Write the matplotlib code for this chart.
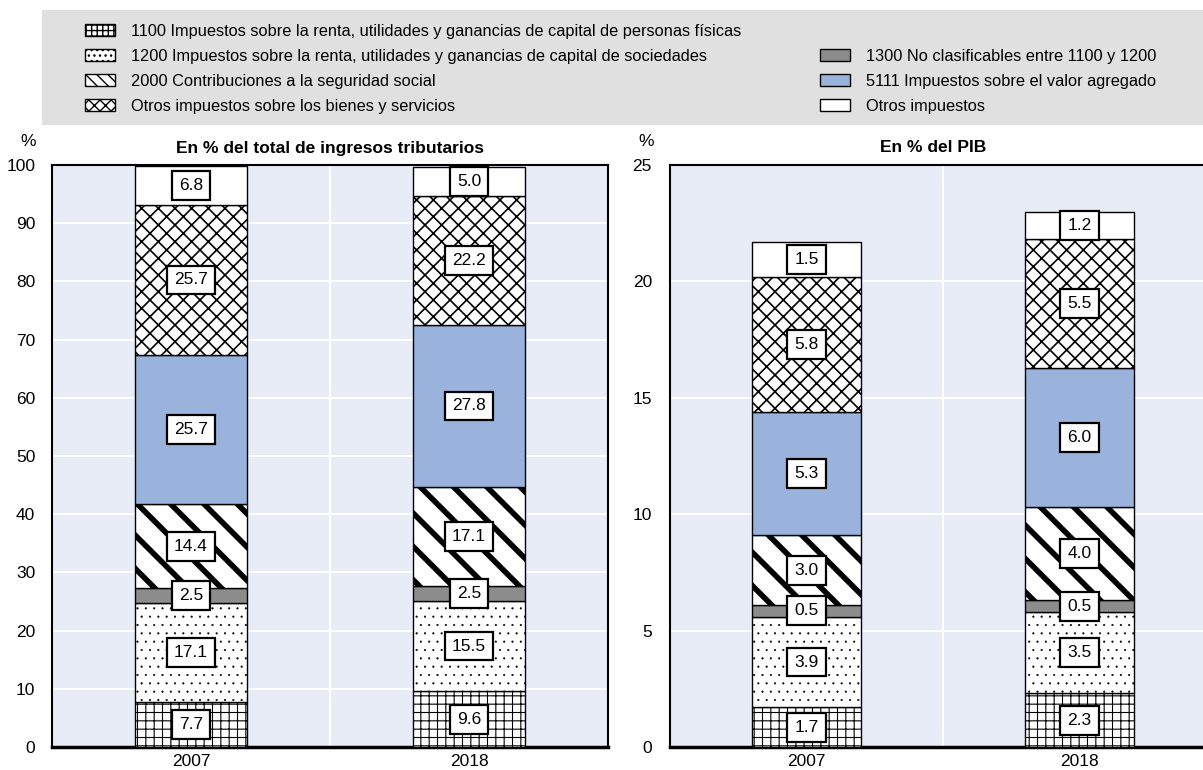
import numpy as np
import matplotlib
matplotlib.use("Agg")
import matplotlib.pyplot as plt
from matplotlib.patches import Rectangle, Patch
from matplotlib import font_manager

# --- data -------------------------------------------------------------
years = ["2007", "2018"]
categories = [
    "1100 Impuestos sobre la renta, utilidades y ganancias de capital de personas físicas",
    "1200 Impuestos sobre la renta, utilidades y ganancias de capital de sociedades",
    "1300 No clasificables entre 1100 y 1200",
    "2000 Contribuciones a la seguridad social",
    "5111 Impuestos sobre el valor agregado",
    "Otros impuestos sobre los bienes y servicios",
    "Otros impuestos",
]
share_2007 = [7.7, 17.1, 2.5, 14.4, 25.7, 25.7, 6.8]
share_2018 = [9.6, 15.5, 2.5, 17.1, 27.8, 22.2, 5.0]
gdp_2007 = [1.7, 3.9, 0.5, 3.0, 5.3, 5.8, 1.5]
gdp_2018 = [2.3, 3.5, 0.5, 4.0, 6.0, 5.5, 1.2]

# --- style ------------------------------------------------------------
names = {f.name for f in font_manager.fontManager.ttflist}
fam = [f for f in ["Liberation Sans Narrow", "Liberation Sans", "DejaVu Sans"] if f in names]
plt.rcParams["font.family"] = fam
plt.rcParams["font.size"] = 12.5

fills = ["white", "white", "#8c8c8c", "white", "#9ab3dc", "white", "white"]
hatches = ["++", "..", None, "\\", None, "xx", None]
legend_hatches = ["+++", "...", None, "\\\\\\", None, "xxx", None]
hatch_lw = [0.8, 0.3, 0.8, 4.0, 0.8, 1.2, 0.8]
legend_lw = [0.8, 0.3, 0.8, 2.5, 0.8, 0.8, 0.8]
bg = "#e8ecf6"


def draw_panel(ax, d07, d18, ymax, step, ypad):
    ax.set_facecolor(bg)
    bottoms = np.zeros(2)
    data = np.array([d07, d18])
    for i in range(len(categories)):
        vals = data[:, i]
        bars = ax.bar([0, 1], vals, 0.4, bottom=bottoms, color=fills[i],
                      edgecolor="black", linewidth=1.0, hatch=hatches[i], zorder=3)
        for b in bars:
            if hasattr(b, "set_hatch_linewidth"):
                b.set_hatch_linewidth(hatch_lw[i])
        for x, v, b0 in zip([0, 1], vals, bottoms):
            ax.text(x, b0 + v / 2, f"{v:.1f}", ha="center", va="center", zorder=5,
                    fontsize=12.5,
                    bbox=dict(boxstyle="square,pad=0.4", fc="white", ec="black", lw=1.6))
        bottoms = bottoms + vals
    ax.set_xlim(-0.5, 1.5)
    ax.set_ylim(0, ymax)
    ax.set_yticks(np.arange(0, ymax + 0.1, step))
    ax.set_xticks([0, 1])
    ax.set_xticklabels(years)
    ax.tick_params(length=0, pad=5)
    ax.tick_params(axis="y", pad=ypad)
    ax.grid(axis="y", color="white", linewidth=1.5, zorder=1)
    ax.axvline(0.5, color="white", linewidth=1.5, zorder=1)
    ax.set_axisbelow(True)
    for s in ax.spines.values():
        s.set_color("black")
        s.set_linewidth(1.5)
    ax.spines["bottom"].set_linewidth(2.5)


W, H = 1203, 770
fig = plt.figure(figsize=(W / 100, H / 100), dpi=100)

ax1 = fig.add_axes([52 / W, 23 / H, 556 / W, 582 / H])
ax2 = fig.add_axes([670 / W, 23 / H, 546 / W, 582 / H])
draw_panel(ax1, share_2007, share_2018, 100, 10, 12)
draw_panel(ax2, gdp_2007, gdp_2018, 25, 5, 13)

fig.text(330 / W, 1 - 148 / H, "En % del total de ingresos tributarios",
         ha="center", va="center", fontweight="bold", fontsize=12.5)
fig.text(933 / W, 1 - 148 / H, "En % del PIB",
         ha="center", va="center", fontweight="bold", fontsize=12.5)
fig.text(28 / W, 1 - 142 / H, "%", ha="center", va="center", fontsize=12.5)
fig.text(646 / W, 1 - 142 / H, "%", ha="center", va="center", fontsize=12.5)

# legend background
fig.patches.append(Rectangle((42 / W, 1 - 125 / H), 1 - 42 / W, 115 / H,
                             transform=fig.transFigure, facecolor="#e0e0e0",
                             edgecolor="none", zorder=0))


def handle(i):
    p = Patch(facecolor=fills[i], edgecolor="black", hatch=legend_hatches[i], linewidth=1.0)
    if hasattr(p, "set_hatch_linewidth"):
        p.set_hatch_linewidth(legend_lw[i])
    return p


left_idx = [0, 1, 3, 5]
right_idx = [2, 4, 6]
kw = dict(frameon=False, fontsize=11.8, handlelength=1.8, handleheight=0.75,
          handletextpad=1.0, labelspacing=0.6, borderpad=0, borderaxespad=0)
fig.legend([handle(i) for i in left_idx], [categories[i] for i in left_idx],
           loc="upper left", bbox_to_anchor=(85 / W, 1 - 24 / H), **kw)
fig.legend([handle(i) for i in right_idx], [categories[i] for i in right_idx],
           loc="upper left", bbox_to_anchor=(820 / W, 1 - 49 / H), **kw)

fig.savefig("out.png", dpi=100)
